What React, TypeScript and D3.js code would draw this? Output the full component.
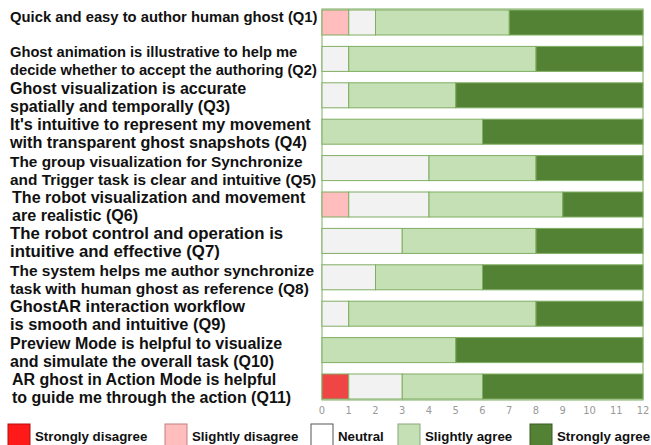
import React from "react";
import * as d3 from "d3";

// survey questions, one entry per row (lines as they wrap in the figure)
const questions = [
	["Quick and easy to author human ghost (Q1)"],
	["Ghost animation is illustrative to help me", "decide whether to accept the authoring (Q2)"],
	["Ghost visualization is accurate", "spatially and temporally (Q3)"],
	["It's intuitive to represent my movement", "with transparent ghost snapshots (Q4)"],
	["The group visualization for Synchronize", "and Trigger task is clear and intuitive (Q5)"],
	["The robot visualization and movement", "are realistic (Q6)"],
	["The robot control and operation is", "intuitive and effective (Q7)"],
	["The system helps me author synchronize", "task with human ghost as reference (Q8)"],
	["GhostAR interaction workflow", "is smooth and intuitive (Q9)"],
	["Preview Mode is helpful to visualize", "and simulate the overall task (Q10)"],
	["AR ghost in Action Mode is helpful", "to guide me through the action (Q11)"],
];
const questionIds = ["Q1", "Q2", "Q3", "Q4", "Q5", "Q6", "Q7", "Q8", "Q9", "Q10", "Q11"];

const categories = ["Strongly disagree", "Slightly disagree", "Neutral", "Slightly agree", "Strongly agree"];
const stronglyDisagree = [0, 0, 0, 0, 0, 0, 0, 0, 0, 0, 1];
const slightlyDisagree = [1, 0, 0, 0, 0, 1, 0, 0, 0, 0, 0];
const neutral = [1, 1, 1, 0, 4, 3, 3, 2, 1, 0, 2];
const slightlyAgree = [5, 7, 4, 6, 4, 5, 5, 4, 7, 5, 3];
const stronglyAgree = [5, 4, 7, 6, 4, 3, 4, 6, 4, 7, 6];
const xTicks = [0, 1, 2, 3, 4, 5, 6, 7, 8, 9, 10, 11, 12];

// styling: each label block was pasted at its own size in the figure
const labelSizes = [14.8, 14.7, 16.1, 16.2, 15.4, 16.1, 16.8, 15.5, 16.4, 16, 16];
const colors = ["#f04545", "#ffbdbd", "#f2f2f2", "#c5e0b4", "#548235"];
const legendColors = ["#ff1a1a", "#ffbdbd", "#ffffff", "#c5e0b4", "#548235"];
const legendStroke = ["#b01010", "#c08080", "#555", "#8aa878", "#3a5a24"];

const App = () => {
	const width = 651;
	const height = 445;
	const labelFont = "'Liberation Sans', Arial, sans-serif";

	const xScale = d3.scaleLinear().domain([0, 12]).range([322, 643]);
	const yScale = d3
		.scaleBand()
		.domain(questionIds)
		.range([10, 399])
		.paddingInner(0.313)
		.paddingOuter(0);

	const table = questionIds.map((id, i) => ({
		id,
		values: [stronglyDisagree[i], slightlyDisagree[i], neutral[i], slightlyAgree[i], stronglyAgree[i]],
	}));
	const stacked = d3
		.stack()
		.keys([0, 1, 2, 3, 4].map(String))
		.value((d, key) => d.values[+key])(table);

	const legendX = [8, 165, 311, 398, 530];

	return (
		<svg
			width={width}
			height={height}
			style={{ position: "absolute", left: 0, top: 0, background: "#fff" }}
		>
			{/* outer frame of the plot */}
			<rect
				x={xScale(0)}
				y={9}
				width={xScale(12) - xScale(0)}
				height={391}
				fill="#fff"
				stroke="#7fae62"
				strokeWidth={1}
			/>
			{stacked.map((series, k) =>
				series.map((d, i) => {
					const w = xScale(d[1]) - xScale(d[0]);
					if (w <= 0) return null;
					return (
						<rect
							key={`${k}-${i}`}
							x={xScale(d[0])}
							y={yScale(questionIds[i])}
							width={w}
							height={yScale.bandwidth()}
							fill={colors[k]}
							stroke="#7fae62"
							strokeWidth={1}
						/>
					);
				})
			)}
			{/* question labels */}
			{questions.map((lines, i) => {
				const c = yScale(questionIds[i]) + yScale.bandwidth() / 2;
				return lines.map((line, j) => (
					<text
						key={`${i}-${j}`}
						x={i === 5 || i === 10 ? 12 : 10}
						y={lines.length === 1 ? c - 1 : c - 1.5 + j * 18}
						fontFamily={labelFont}
						fontWeight="bold"
						fontSize={labelSizes[i]}
						fill="#111"
					>
						{line}
					</text>
				));
			})}
			{/* x axis ticks */}
			{xTicks.map((t) => (
				<text
					key={t}
					x={xScale(t)}
					y={414}
					textAnchor="middle"
					fontFamily="'DejaVu Sans Condensed', 'Liberation Sans Narrow', sans-serif"
					fontSize={11}
					fill="#999"
				>
					{t}
				</text>
			))}
			{/* legend */}
			{categories.map((c, k) => (
				<g key={c}>
					<rect
						x={legendX[k]}
						y={424}
						width={22}
						height={22}
						fill={legendColors[k]}
						stroke={legendStroke[k]}
						strokeWidth={1}
					/>
					<text
						x={legendX[k] + 27}
						y={441}
						fontFamily={labelFont}
						fontWeight="bold"
						fontSize={13.3}
						fill="#111"
					>
						{c}
					</text>
				</g>
			))}
		</svg>
	);
};

export default App;
